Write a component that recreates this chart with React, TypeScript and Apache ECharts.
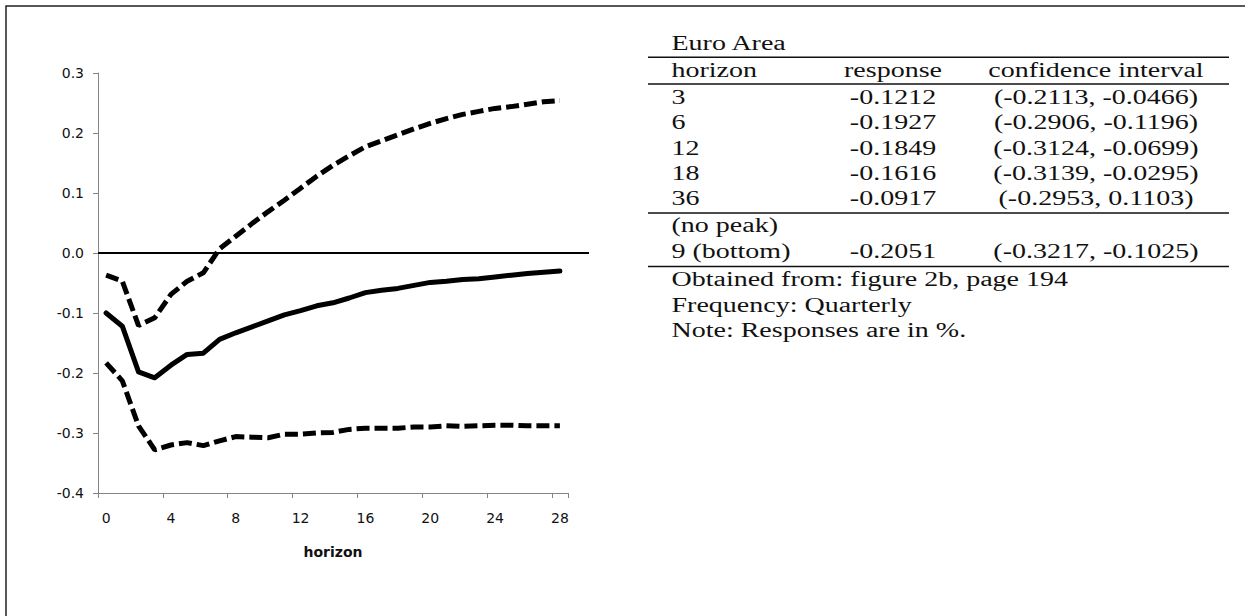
import React, { useEffect, useRef } from 'react';
import * as echarts from 'echarts';

const horizons = ['0','1','2','3','4','5','6','7','8','9','10','11','12','13','14','15','16','17','18','19','20','21','22','23','24','25','26','27','28'];
const response = [-0.100,-0.122,-0.198,-0.208,-0.187,-0.169,-0.167,-0.144,-0.133,-0.123,-0.113,-0.103,-0.096,-0.088,-0.083,-0.075,-0.066,-0.062,-0.059,-0.054,-0.049,-0.047,-0.044,-0.043,-0.040,-0.037,-0.034,-0.032,-0.030];
const upperBand = [-0.037,-0.047,-0.121,-0.108,-0.069,-0.047,-0.033,0.007,0.028,0.049,0.069,0.088,0.108,0.128,0.146,0.162,0.177,0.187,0.197,0.207,0.216,0.224,0.231,0.236,0.241,0.244,0.248,0.252,0.254];
const lowerBand = [-0.183,-0.213,-0.288,-0.328,-0.320,-0.316,-0.321,-0.313,-0.306,-0.307,-0.308,-0.302,-0.302,-0.300,-0.299,-0.294,-0.292,-0.292,-0.292,-0.290,-0.290,-0.288,-0.289,-0.288,-0.287,-0.287,-0.288,-0.288,-0.288];

const tableTitle = 'Euro Area';
const tableHeader = ['horizon', 'response', 'confidence interval'];
const tableHorizons = ['3', '6', '12', '18', '36'];
const tableResponses = ['-0.1212', '-0.1927', '-0.1849', '-0.1616', '-0.0917'];
const tableIntervals = ['(-0.2113, -0.0466)', '(-0.2906, -0.1196)', '(-0.3124, -0.0699)', '(-0.3139, -0.0295)', '(-0.2953, 0.1103)'];
const peakRow = ['(no peak)'];
const bottomRow = ['9 (bottom)', '-0.2051', '(-0.3217, -0.1025)'];
const notes = ['Obtained from: figure 2b, page 194', 'Frequency: Quarterly', 'Note: Responses are in %.'];

const SERIF = '"Liberation Serif", "Times New Roman", serif';
const TFONT = 20;
const SX = 1.4;

function txt(text: string, x: number, baseline: number, align: string) {
  return {
    type: 'text',
    x,
    y: baseline - 6.5,
    scaleX: SX,
    silent: true,
    style: {
      text,
      x: 0,
      y: 0,
      textAlign: align,
      textVerticalAlign: 'middle',
      fontFamily: SERIF,
      fontSize: TFONT,
      fill: '#111',
    },
  };
}

function rule(y: number, w: number) {
  return {
    type: 'line',
    silent: true,
    shape: { x1: 648, y1: y, x2: 1229, y2: y },
    style: { stroke: '#111', lineWidth: w },
  };
}

export default function App() {
  const ref = useRef<HTMLDivElement>(null);
  useEffect(() => {
    const chart = echarts.init(ref.current!, null, { renderer: 'svg' });
    const axisFont = { fontFamily: '"DejaVu Sans", Arial, sans-serif', fontSize: 14, color: '#111' };
    chart.setOption({
      animation: false,
      backgroundColor: '#fff',
      grid: { left: 98, top: 73, width: 470, height: 420, containLabel: false },
      xAxis: {
        type: 'category',
        data: horizons,
        boundaryGap: true,
        name: 'horizon',
        nameLocation: 'middle',
        nameGap: 52,
        nameTextStyle: { fontFamily: '"DejaVu Sans", Arial, sans-serif', fontSize: 14, fontWeight: 'bold', color: '#111' },
        axisLine: { onZero: false, lineStyle: { color: '#858585', width: 1 } },
        axisTick: { show: true, interval: 3, length: 5, lineStyle: { color: '#858585' } },
        axisLabel: { ...axisFont, interval: 3, margin: 18 },
        splitLine: { show: false },
      },
      yAxis: {
        type: 'value',
        min: -0.4,
        max: 0.3,
        interval: 0.1,
        axisLine: { show: true, lineStyle: { color: '#858585', width: 1 } },
        axisTick: { show: true, length: 5, lineStyle: { color: '#858585' } },
        axisLabel: {
          ...axisFont,
          margin: 14,
          formatter: (v: number) => (Math.abs(v) < 1e-9 ? '0.0' : v.toFixed(1)),
        },
        splitLine: { show: false },
      },
      series: [
        {
          type: 'line', data: upperBand, symbol: 'none', silent: true, z: 3,
          lineStyle: { color: '#000', width: 5, type: [13, 5], cap: 'butt' },
        },
        {
          type: 'line', data: lowerBand, symbol: 'none', silent: true, z: 3,
          lineStyle: { color: '#000', width: 5, type: [13, 5], cap: 'butt' },
        },
        {
          type: 'line', data: response, symbol: 'none', silent: true, z: 4,
          lineStyle: { color: '#000', width: 5, type: 'solid', cap: 'round', join: 'round' },
        },
      ],
    });

    const y0 = chart.convertToPixel({ yAxisIndex: 0 }, 0) as number;
    const elements: any[] = [];
    elements.push({
      type: 'rect', silent: true,
      shape: { x: 6, y: 6, width: 1400, height: 800 },
      style: { fill: 'none', stroke: '#222', lineWidth: 1.5 },
    });
    elements.push({
      type: 'line', silent: true, z: 2,
      shape: { x1: 98, y1: y0, x2: 589, y2: y0 },
      style: { stroke: '#000', lineWidth: 2 },
    });
    const c1 = 671.5, c2 = 893, c3 = 1096;
    elements.push(txt(tableTitle, c1, 49.3, 'left'));
    elements.push(rule(57.3, 1.6));
    elements.push(txt(tableHeader[0], c1, 76.7, 'left'));
    elements.push(txt(tableHeader[1], c2, 76.7, 'center'));
    elements.push(txt(tableHeader[2], c3, 76.7, 'center'));
    elements.push(rule(84, 1.4));
    const rowBase = [103.3, 129, 154.3, 180, 205];
    tableHorizons.forEach((h, i) => {
      elements.push(txt(h, c1, rowBase[i], 'left'));
      elements.push(txt(tableResponses[i], c2, rowBase[i], 'center'));
      elements.push(txt(tableIntervals[i], c3, rowBase[i], 'center'));
    });
    elements.push(rule(213, 1.4));
    elements.push(txt(peakRow[0], c1, 232, 'left'));
    elements.push(txt(bottomRow[0], c1, 257.7, 'left'));
    elements.push(txt(bottomRow[1], c2, 257.7, 'center'));
    elements.push(txt(bottomRow[2], c3, 257.7, 'center'));
    elements.push(rule(266.5, 1.4));
    const noteBase = [285.7, 311.7, 336.7];
    notes.forEach((n, i) => elements.push(txt(n, c1, noteBase[i], 'left')));
    chart.setOption({ graphic: elements });

    return () => chart.dispose();
  }, []);
  return (
    <div
      ref={ref}
      style={{ position: 'absolute', left: 0, top: 0, width: 1245, height: 616, background: '#fff' }}
    />
  );
}
